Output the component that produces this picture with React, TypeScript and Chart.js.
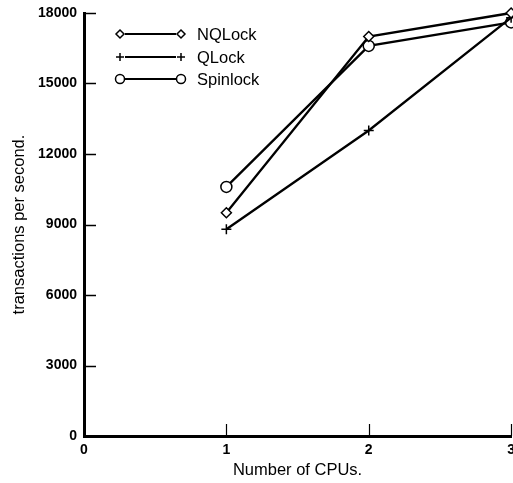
import React, { useEffect, useRef } from "react";
import { Chart, registerables } from "chart.js";

Chart.register(...registerables);

const cpus = [1, 2, 3];
const nqlock = [9500, 17000, 18000];
const qlock = [8800, 13000, 17800];
const spinlock = [10600, 16600, 17600];
const seriesNames = ["NQLock", "QLock", "Spinlock"];
const xTicks = [0, 1, 2, 3];
const yTicks = [0, 3000, 6000, 9000, 12000, 15000, 18000];

const FONT = "'Liberation Sans', Arial, Helvetica, sans-serif";

function drawMarker(ctx: CanvasRenderingContext2D, style: string, x: number, y: number, r: number) {
  ctx.save();
  ctx.strokeStyle = "#000";
  ctx.fillStyle = "#fff";
  ctx.lineWidth = 1.5;
  ctx.beginPath();
  if (style === "rectRot") {
    ctx.moveTo(x, y - r);
    ctx.lineTo(x + r, y);
    ctx.lineTo(x, y + r);
    ctx.lineTo(x - r, y);
    ctx.closePath();
    ctx.fill();
    ctx.stroke();
  } else if (style === "cross") {
    ctx.moveTo(x - r, y);
    ctx.lineTo(x + r, y);
    ctx.moveTo(x, y - r);
    ctx.lineTo(x, y + r);
    ctx.stroke();
  } else {
    ctx.arc(x, y, r, 0, Math.PI * 2);
    ctx.fill();
    ctx.stroke();
  }
  ctx.restore();
}

const markerStyles = ["rectRot", "cross", "circle"];
const markerSizes = [5, 5, 5.5];

const decorPlugin = {
  id: "decor",
  afterDraw(chart: any) {
    const ctx = chart.ctx as CanvasRenderingContext2D;
    const xs = chart.scales.x;
    const ys = chart.scales.y;
    const left = chart.chartArea.left;
    const bottom = chart.chartArea.bottom;
    ctx.save();
    ctx.strokeStyle = "#000";
    ctx.lineWidth = 1.5;
    // inward y ticks
    yTicks.forEach((v) => {
      if (v === 0) return;
      const py = Math.round(ys.getPixelForValue(v)) + 0.5;
      ctx.beginPath();
      ctx.moveTo(left, py);
      ctx.lineTo(left + 12, py);
      ctx.stroke();
    });
    // inward x ticks
    ctx.lineWidth = 1.2;
    xTicks.forEach((v) => {
      if (v === 0) return;
      const px = Math.round(xs.getPixelForValue(v)) + 0.5;
      ctx.beginPath();
      ctx.moveTo(px, bottom);
      ctx.lineTo(px, bottom - 12);
      ctx.stroke();
    });
    // legend
    const rows = [34, 57, 79];
    ctx.font = `16.5px ${FONT}`;
    ctx.fillStyle = "#000";
    ctx.textBaseline = "middle";
    ctx.textAlign = "left";
    rows.forEach((ry, i) => {
      ctx.lineWidth = 1.8;
      ctx.beginPath();
      ctx.moveTo(125, ry);
      ctx.lineTo(176, ry);
      ctx.stroke();
      drawMarker(ctx, markerStyles[i], 120, ry, markerSizes[i] - 1);
      drawMarker(ctx, markerStyles[i], 181, ry, markerSizes[i] - 1);
      ctx.fillText(seriesNames[i], 197, ry + 1);
    });
    ctx.restore();
  },
};

function makeDataset(label: string, values: number[], style: string, r: number) {
  return {
    label,
    data: cpus.map((c, i) => ({ x: c, y: values[i] })),
    borderColor: "#000",
    borderWidth: 2.3,
    pointStyle: style,
    pointRadius: r,
    pointBorderWidth: 1.5,
    pointBorderColor: "#000",
    pointBackgroundColor: "#fff",
    fill: false,
    tension: 0,
    clip: false,
  };
}

export default function App() {
  const ref = useRef<HTMLCanvasElement>(null);
  useEffect(() => {
    if (!ref.current) return;
    const chart = new Chart(ref.current, {
      type: "line",
      data: {
        datasets: [
          makeDataset(seriesNames[0], nqlock, markerStyles[0], markerSizes[0]),
          makeDataset(seriesNames[1], qlock, markerStyles[1], markerSizes[1]),
          makeDataset(seriesNames[2], spinlock, markerStyles[2], markerSizes[2]),
        ],
      },
      options: {
        animation: false,
        responsive: false,
        layout: { padding: { top: 13, right: 0, left: 0, bottom: 0 } },
        plugins: { legend: { display: false }, tooltip: { enabled: false } },
        scales: {
          x: {
            type: "linear",
            min: 0,
            max: 3,
            afterBuildTicks: (s: any) => {
              s.ticks = xTicks.map((v) => ({ value: v }));
            },
            afterFit: (s: any) => {
              s.height = 47;
            },
            grid: { display: false, drawTicks: false },
            border: { display: true, color: "#000", width: 3 },
            ticks: {
              padding: 6,
              color: "#000",
              font: { family: FONT, size: 14, weight: "bold" },
              maxRotation: 0,
              autoSkip: false,
            },
            title: {
              display: true,
              text: "Number of CPUs.",
              color: "#000",
              font: { family: FONT, size: 16.5 },
              padding: { top: 0, bottom: 3 },
            },
          },
          y: {
            min: 0,
            max: 18000,
            afterBuildTicks: (s: any) => {
              s.ticks = yTicks.map((v) => ({ value: v }));
            },
            afterFit: (s: any) => {
              s.width = 84;
              s.paddingTop = 0;
              s.paddingBottom = 0;
            },
            grid: { display: false, drawTicks: false },
            border: { display: true, color: "#000", width: 3 },
            ticks: {
              padding: 7,
              color: "#000",
              font: { family: FONT, size: 14, weight: "bold" },
              autoSkip: false,
              callback: (v: any) => String(v),
            },
            title: {
              display: true,
              text: "transactions per second.",
              color: "#000",
              font: { family: FONT, size: 16.5 },
              padding: { top: 10, bottom: 0 },
            },
          },
        },
      },
      plugins: [decorPlugin],
    } as any);
    return () => chart.destroy();
  }, []);
  return (
    <div style={{ position: "fixed", left: 0, top: 0, width: 513, height: 483, background: "#fff", overflow: "hidden" }}>
      <canvas ref={ref} width={521} height={483} style={{ display: "block" }} />
    </div>
  );
}
